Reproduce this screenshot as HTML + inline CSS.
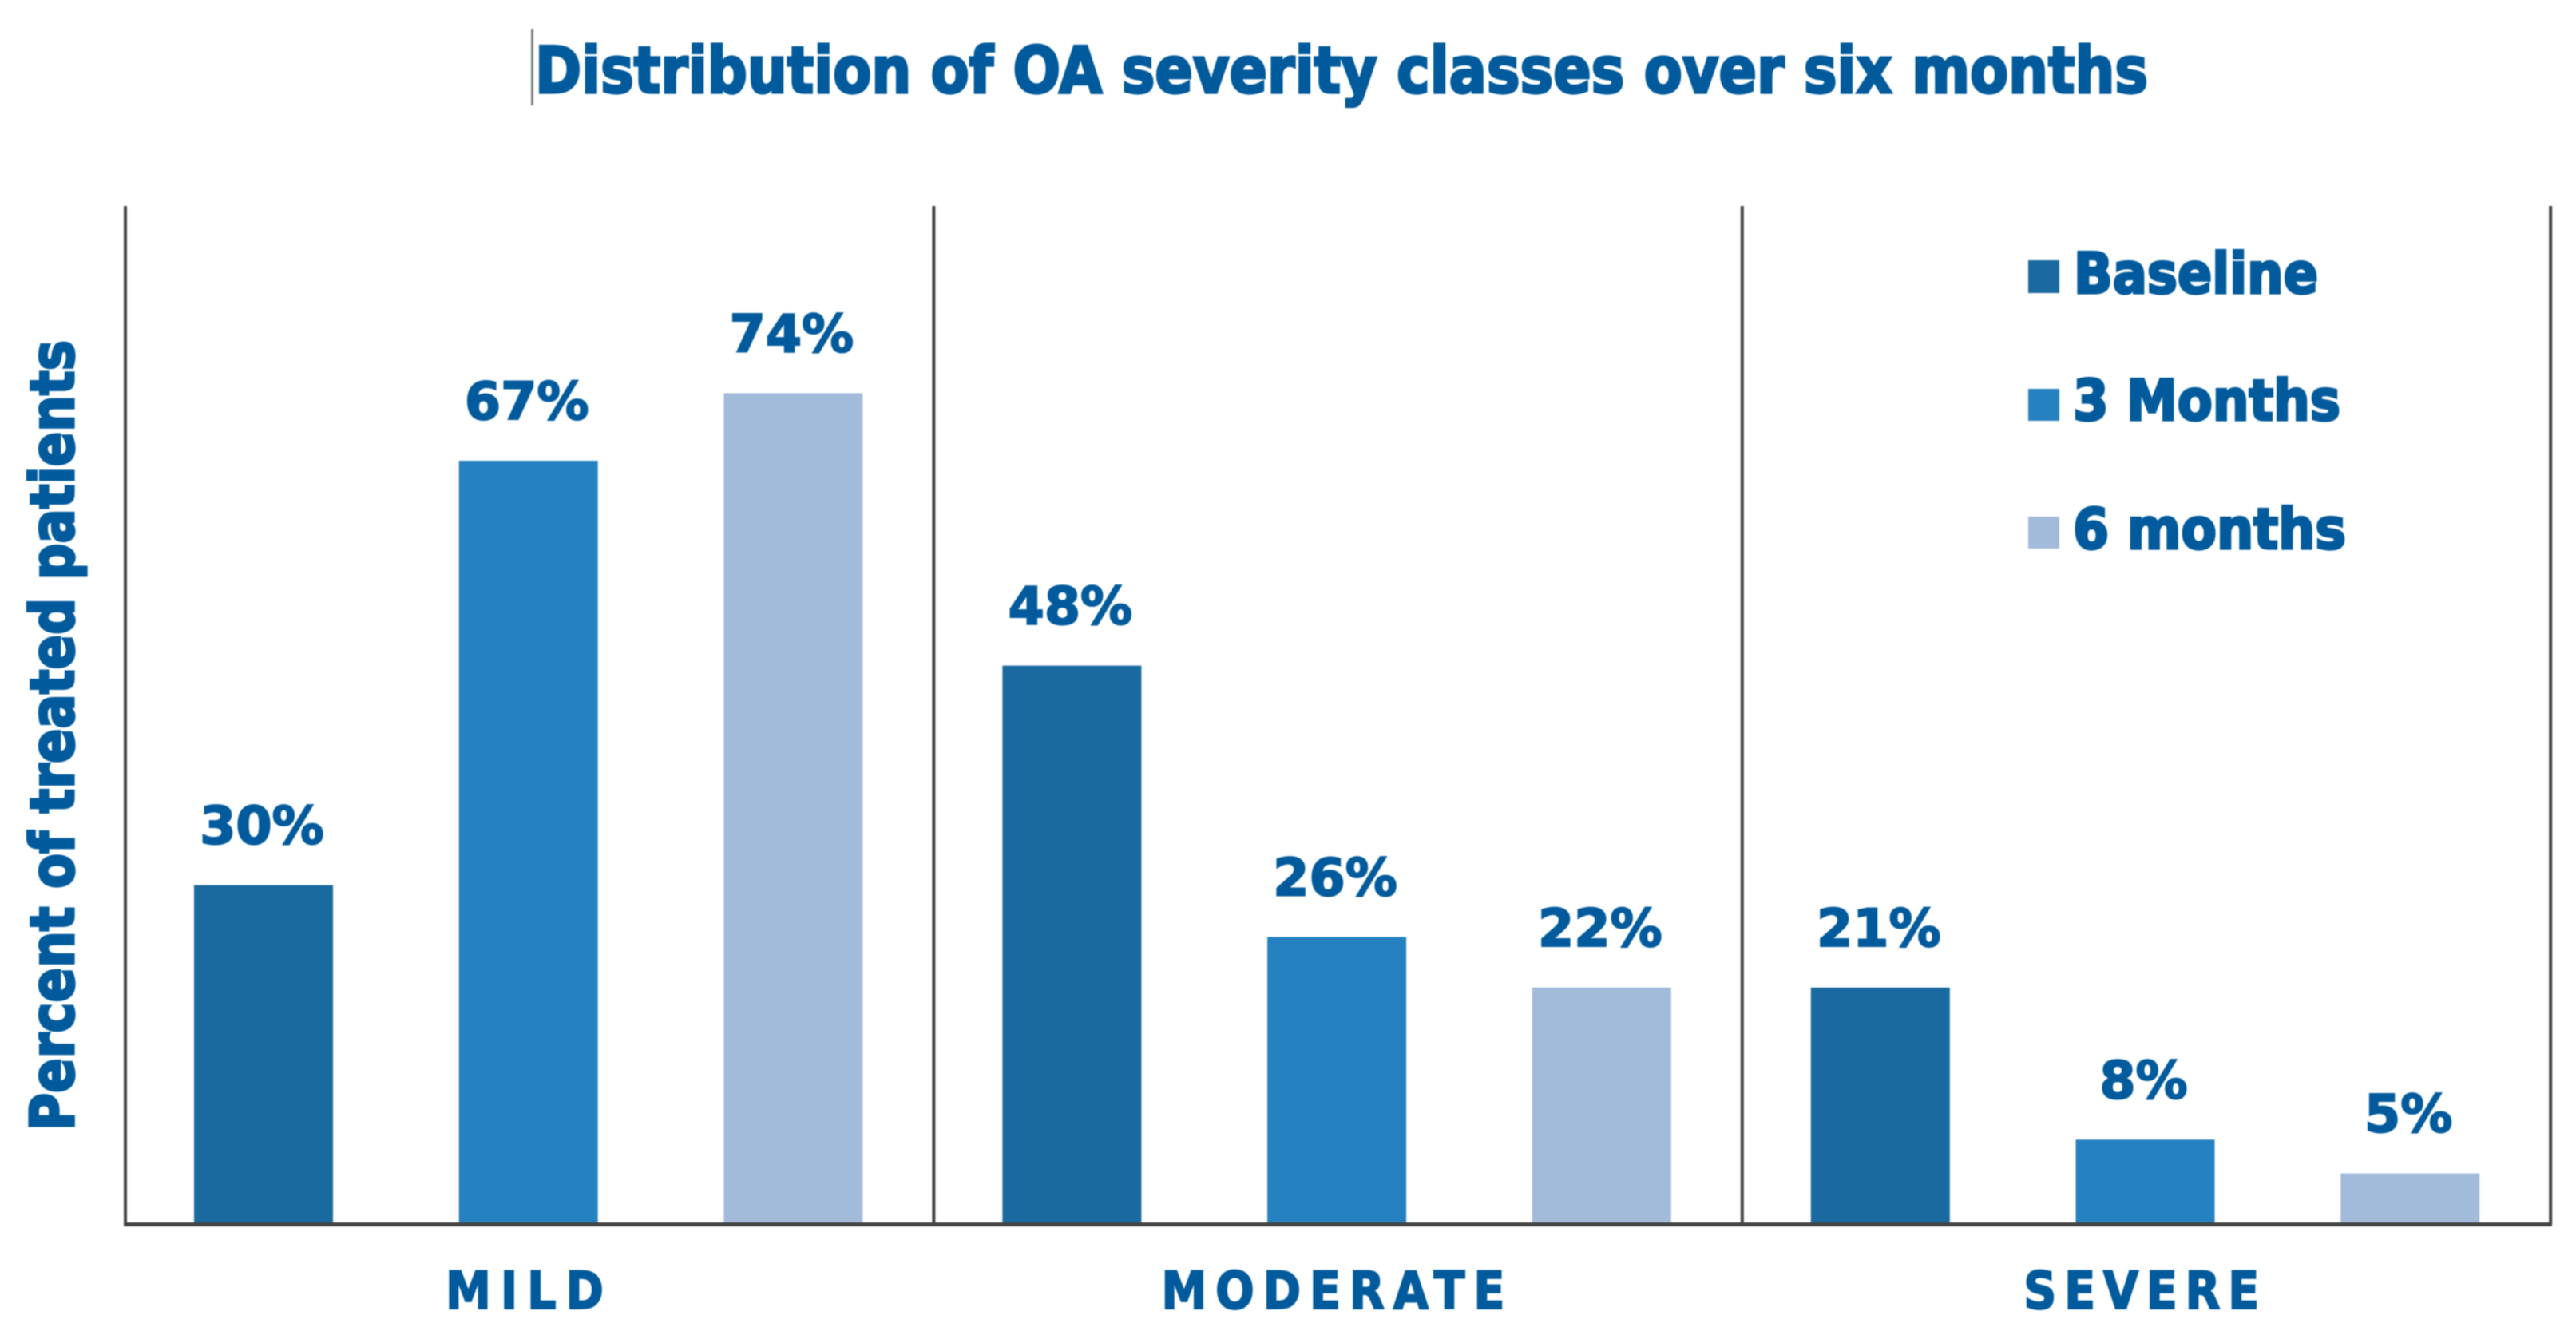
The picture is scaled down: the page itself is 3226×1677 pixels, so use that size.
<!DOCTYPE html>
<html lang="en">
<head>
<meta charset="utf-8">
<title>Distribution of OA severity classes over six months</title>
<style>
  html, body { margin: 0; padding: 0; background: #fff; }
  body { width: 3226px; height: 1677px; overflow: hidden; }
  svg { display: block; filter: blur(0.9px); }
  text { font-family: "DejaVu Sans", "Liberation Sans", sans-serif; font-weight: 700; fill: #005a9c; stroke: #005a9c; stroke-width: 2px; }
  text.heavy { stroke-width: 3.2px; }
</style>
</head>
<body>
<svg id="chart" xmlns="http://www.w3.org/2000/svg" width="3226" height="1677" viewBox="0 0 3226 1677">
  <rect x="0" y="0" width="3226" height="1677" fill="#ffffff"/>
  <rect x="665" y="36" width="3" height="96" fill="#808080"/>
  <text class="heavy" x="670" y="116" font-size="80" textLength="2020" lengthAdjust="spacingAndGlyphs">Distribution of OA severity classes over six months</text>
  <text class="heavy" transform="translate(92 1416) rotate(-90)" x="0" y="0" font-size="76" textLength="990" lengthAdjust="spacingAndGlyphs">Percent of treated patients</text>
  <g id="panel-lines"></g>
  <g id="bars"></g>
  <g id="bar-labels"></g>
  <rect x="155" y="1531" width="3041" height="5" fill="#444444"/>
  <g id="categories"></g>
  <g>
    <g>
      <rect x="2540" y="326" width="39" height="41" fill="#1a6aa0"/>
      <text class="heavy" x="2597" y="367" font-size="70" textLength="306" lengthAdjust="spacingAndGlyphs">Baseline</text>
    </g>
    <g>
      <rect x="2540" y="487" width="39" height="40" fill="#2681c0"/>
      <text class="heavy" x="2596" y="526" font-size="70" textLength="335" lengthAdjust="spacingAndGlyphs">3 Months</text>
    </g>
    <g>
      <rect x="2540" y="647" width="39" height="40" fill="#a3bbdb"/>
      <text class="heavy" x="2596" y="687" font-size="70" textLength="342" lengthAdjust="spacingAndGlyphs">6 months</text>
    </g>
  </g>
</svg>
<script>
const categories = ['MILD', 'MODERATE', 'SEVERE'];
const seriesNames = ['baseline', '3-months', '6-months'];
const baselineValues = [30.1, 49.6, 21.0];
const threeMonthValues = [67.8, 25.5, 7.5];
const sixMonthValues = [73.8, 21.0, 4.5];
const baselineLabels = ['30%', '48%', '21%'];
const threeMonthLabels = ['67%', '26%', '8%'];
const sixMonthLabels = ['74%', '22%', '5%'];

const SVG_NS = 'http://www.w3.org/2000/svg';
const seriesValues = [baselineValues, threeMonthValues, sixMonthValues];
const seriesLabels = [baselineLabels, threeMonthLabels, sixMonthLabels];
const seriesColors = ['#1a6aa0', '#2681c0', '#a3bbdb'];

const axisBaseline = 1533;
const pxPerUnit = 14.1;
const panelLeft = 157;
const panelStep = 1012.4;
const panelTop = 258;
const barWidth = 174;
const categoryLabelWidths = [198, 430, 295];
const categoryGlyphScale = 0.88;

function yScale(v) { return axisBaseline - v * pxPerUnit; }
function panelX(i) { return panelLeft + panelStep * i; }
function barCenter(g, s) { return panelX(g) + 173 + 331.7 * s; }
function categoryCenter(g) { return panelX(g) + 500; }

const linesLayer = document.getElementById('panel-lines');
const barsLayer = document.getElementById('bars');
const labelsLayer = document.getElementById('bar-labels');
const catLayer = document.getElementById('categories');

for (let i = 0; i <= categories.length; i++) {
  const line = document.createElementNS(SVG_NS, 'rect');
  
  
  line.setAttribute('x', panelX(i) - 2);
  line.setAttribute('y', panelTop);
  line.setAttribute('width', 4);
  line.setAttribute('height', axisBaseline - panelTop);
  line.setAttribute('fill', '#444444');
  linesLayer.appendChild(line);
}

categories.forEach(function (cat, g) {
  seriesValues.forEach(function (vals, s) {
    const cx = barCenter(g, s);
    const top = yScale(vals[g]);

    const bar = document.createElementNS(SVG_NS, 'rect');
    
    
    bar.setAttribute('x', cx - barWidth / 2);
    bar.setAttribute('y', top);
    bar.setAttribute('width', barWidth);
    bar.setAttribute('height', axisBaseline - top);
    bar.setAttribute('fill', seriesColors[s]);
    barsLayer.appendChild(bar);

    const label = document.createElementNS(SVG_NS, 'text');
    
    
    label.setAttribute('x', cx - 2);
    label.setAttribute('y', top - 52);
    label.setAttribute('font-size', 65);
    label.setAttribute('text-anchor', 'middle');
    label.textContent = seriesLabels[s][g];
    labelsLayer.appendChild(label);
  });

  const left = categoryCenter(g) - categoryLabelWidths[g] / 2;
  const catLabel = document.createElementNS(SVG_NS, 'text');
  
  
  catLabel.setAttribute('transform', 'translate(' + left + ' 1639) scale(' + categoryGlyphScale + ' 1)');
  catLabel.setAttribute('x', 0);
  catLabel.setAttribute('y', 0);
  catLabel.setAttribute('font-size', 65);
  catLabel.setAttribute('stroke-width', 3);
  catLabel.setAttribute('textLength', categoryLabelWidths[g] / categoryGlyphScale);
  catLabel.setAttribute('lengthAdjust', 'spacing');
  catLabel.textContent = cat;
  catLayer.appendChild(catLabel);
});
</script>
</body>
</html>
